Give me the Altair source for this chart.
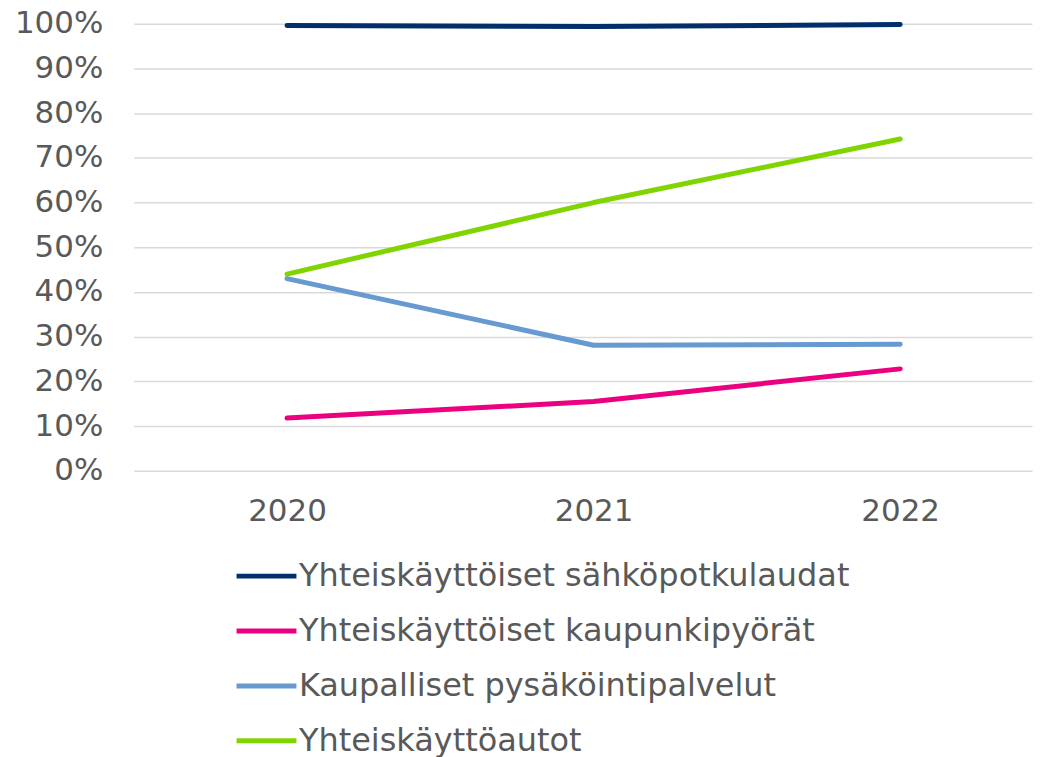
import altair as alt
import pandas as pd

years = [2020, 2021, 2022]
series = [
    "Yhteiskäyttöiset sähköpotkulaudat",
    "Yhteiskäyttöiset kaupunkipyörät",
    "Kaupalliset pysäköintipalvelut",
    "Yhteiskäyttöautot",
]
scooters = [0.996, 0.994, 0.998]
bikes = [0.118, 0.155, 0.228]
parking = [0.430, 0.281, 0.283]
carshare = [0.440, 0.600, 0.742]
colors = ["#002f6c", "#eb0080", "#679ad0", "#80d500"]
y_ticks = [i / 10 for i in range(11)]

rows = []
for name, vals in zip(series, [scooters, bikes, parking, carshare]):
    for yr, v in zip(years, vals):
        rows.append({"Vuosi": yr, "Osuus": v, "Sarja": name})
df = pd.DataFrame(rows)

FONT = "DejaVu Sans"
GREY = "#595959"

chart = (
    alt.Chart(df)
    .mark_line(strokeWidth=5, strokeCap="round", strokeJoin="round")
    .encode(
        x=alt.X(
            "Vuosi:Q",
            scale=alt.Scale(domain=[2019.5, 2022.43], nice=False, zero=False),
            axis=alt.Axis(
                values=years,
                format="d",
                title=None,
                grid=False,
                ticks=False,
                domain=False,
                labelFont=FONT,
                labelFontSize=31,
                labelColor=GREY,
                labelPadding=26,
                labelFlush=False,
            ),
        ),
        y=alt.Y(
            "Osuus:Q",
            scale=alt.Scale(domain=[0, 1], nice=False),
            axis=alt.Axis(
                values=y_ticks,
                format=".0%",
                title=None,
                ticks=False,
                domain=False,
                gridColor="#d9d9d9",
                gridWidth=1.5,
                labelFont=FONT,
                labelFontSize=31,
                labelColor=GREY,
                labelPadding=31,
            ),
        ),
        color=alt.Color(
            "Sarja:N",
            scale=alt.Scale(domain=series, range=colors),
            legend=alt.Legend(
                title=None,
                orient="none",
                legendX=100.5,
                legendY=521,
                direction="vertical",
                symbolType="stroke",
                symbolSize=3600,
                symbolStrokeWidth=5,
                labelFont=FONT,
                labelFontSize=32,
                labelColor=GREY,
                labelOffset=0,
                labelLimit=0,
                rowPadding=6,
                padding=0,
            ),
        ),
        order=alt.Order("Vuosi:Q"),
    )
    .properties(
        width=900,
        height=448,
        autosize=alt.AutoSizeParams(type="none"),
        padding={"left": 126, "top": 15, "right": 5, "bottom": 292},
    )
    .configure_view(stroke=None)
)

chart.save("out.html", embed_options={"renderer": "svg", "actions": False})
